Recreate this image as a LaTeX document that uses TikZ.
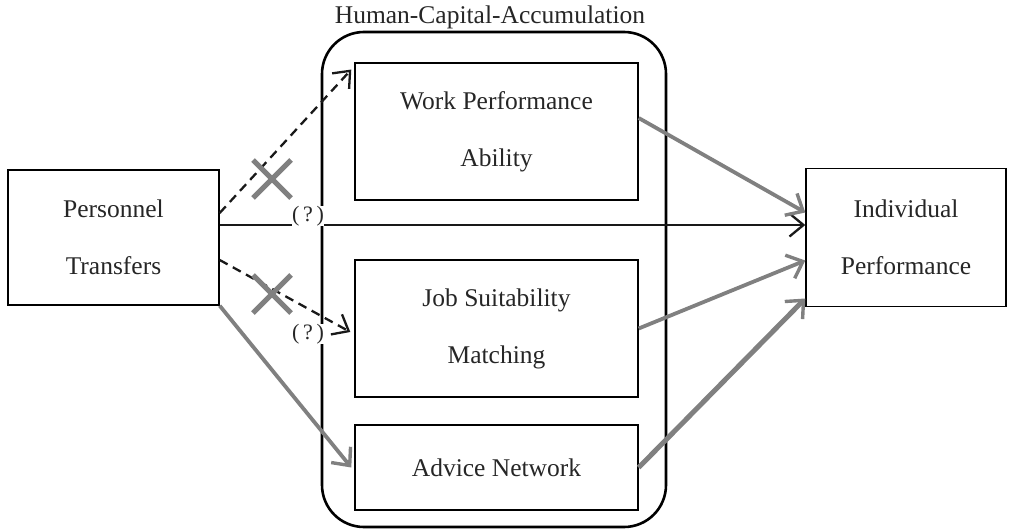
\documentclass[tikz,border=0pt]{standalone}
\usepackage{fontspec}
\setmainfont{Liberation Serif}
\usetikzlibrary{arrows.meta}
\usetikzlibrary{positioning}
\tikzset{
  every node/.style={font=\rmfamily}
}

\begin{document}
\begin{tikzpicture}[x=1pt,y=-1pt]
  \tikzset{
    box/.style={
      draw,
      rectangle,
      line width=1.4pt,
      align=center,
      inner sep=0pt,
      text=black!85,
      font=\fontsize{25.5}{57}\selectfont
    },
    link/.style={
      draw=black!90,
      line width=2.3pt,
      -{Straight Barb[length=14pt,width=23pt,line width=2.3pt]}
    },
    trial/.style={
      link,
      dashed,
      dash pattern=on 9pt off 6pt
    },
    effect/.style={
      draw=gray,
      line width=3.8pt,
      -{Straight Barb[length=14pt,width=25pt,line width=3.4pt]}
    },
    cross/.style={
      draw=gray,
      line width=5pt
    }
  }
  \useasboundingbox (0,0) rectangle (1010,530);

  % Container
  \draw[line width=2.6pt, rounded corners=42pt] (322,32) rectangle (666,527);
  \node[text=black!85, font=\fontsize{25.5}{30}\selectfont] (title) at (490,17) {Human-Capital-Accumulation};

  % Boxes
  \node[box, minimum width=211pt, minimum height=135pt] (pt) at (113.5,237.5) {Personnel\\Transfers};
  \node[box, minimum width=200pt, minimum height=138pt] (rp) at (906,237.5) {Individual\\Performance};
  \node[box, minimum width=283pt, minimum height=137pt] (wpa) at (496.5,131.5) {Work Performance\\Ability};
  \node[box, minimum width=283pt, minimum height=137pt] (jsm) at (496.5,328.5) {Job Suitability\\Matching};
  \node[box, minimum width=283pt, minimum height=85pt] (an) at (496.5,467.5) {Advice Network};

  % Direct path
  \draw[link] ([yshift=12.5pt]pt.east) -- ([yshift=12.5pt]rp.west);

  % Unsupported paths
  \draw[trial] ([yshift=24.5pt]pt.east) -- ([xshift=-3pt,yshift=62pt]wpa.west);
  \draw[trial] ([yshift=-22.5pt]pt.east) -- ([xshift=-4pt,yshift=-3.5pt]jsm.west);
  \coordinate (x1) at (272,179);
  \coordinate (x2) at (272,294);
  \draw[cross] ([shift={(-19pt,19pt)}]x1) -- ([shift={(19pt,-19pt)}]x1);
  \draw[cross] ([shift={(-19pt,-19pt)}]x1) -- ([shift={(19pt,19pt)}]x1);
  \draw[cross] ([shift={(-19pt,19pt)}]x2) -- ([shift={(19pt,-19pt)}]x2);
  \draw[cross] ([shift={(-19pt,-19pt)}]x2) -- ([shift={(19pt,19pt)}]x2);
  \node[fill=white, inner sep=0.5pt, text=black!85, font=\fontsize{22}{26}\selectfont] (q1) at (308,216) {(\,?\,)};
  \node[fill=white, inner sep=0.5pt, text=black!85, font=\fontsize{22}{26}\selectfont] (q2) at (308,334) {(\,?\,)};

  % Supported paths
  \draw[effect] (pt.south east) -- ([xshift=-3pt]an.west);
  \draw[effect] ([yshift=13.5pt]wpa.east) -- ([yshift=25pt]rp.west);
  \draw[effect] (jsm.east) -- ([yshift=-23pt]rp.west);
  \draw[effect, line width=5pt] (an.east) -- ([yshift=-61pt]rp.west);
\end{tikzpicture}
\end{document}
